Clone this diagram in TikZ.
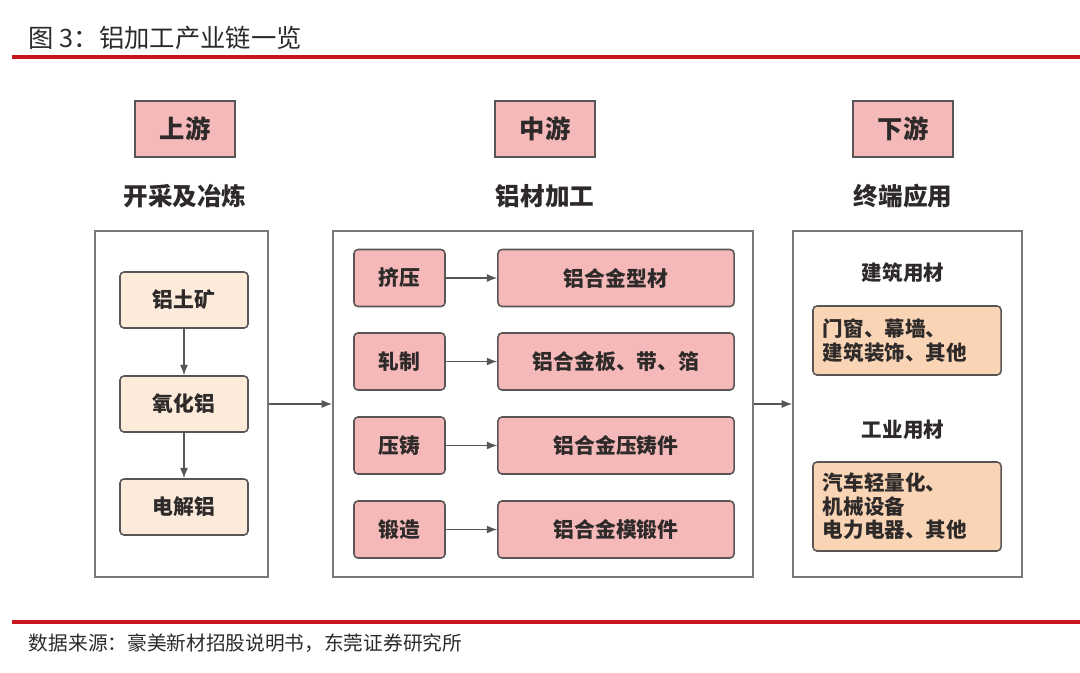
\documentclass[tikz,border=0pt]{standalone}
\usepackage{fontspec}
\setmainfont{Noto Sans CJK SC}
\usepackage{tikz}
\usetikzlibrary{arrows.meta}
\definecolor{zred}{HTML}{C8161D}
\definecolor{zpink}{HTML}{F4B9B8}
\definecolor{zcream}{HTML}{FCEADB}
\definecolor{zpeach}{HTML}{F9D5B5}
\definecolor{zedge}{HTML}{5A5555}
\definecolor{ztext}{HTML}{2E2A2A}

\tikzset{
  headbox/.style={draw=zedge,line width=1.2pt,fill=zpink,minimum width=2.5cm,minimum height=1.4cm,
    font=\fontsize{18}{20}\selectfont\bfseries,text=ztext},
  stagebox/.style={draw=zedge!80,line width=1.2pt,fill=white},
  orebox/.style={draw=zedge,line width=1.1pt,fill=zcream,rounded corners=1mm,minimum width=3.2cm,minimum height=1.4cm,
    font=\fontsize{14.8}{17}\selectfont\bfseries,text=ztext},
  procbox/.style={draw=zedge,line width=1.1pt,fill=zpink,rounded corners=1mm,minimum width=2.275cm,minimum height=1.425cm,
    font=\fontsize{14.8}{17}\selectfont\bfseries,text=ztext},
  prodbox/.style={procbox,minimum width=5.9cm},
  usebox/.style={draw=zedge,line width=1.1pt,fill=zpeach,rounded corners=1mm,text width=4.2cm,align=left,
    inner xsep=0.25cm,font=\fontsize{14.6}{16.8}\selectfont\bfseries,text=ztext},
  stagelabel/.style={font=\fontsize{17.5}{20}\selectfont\bfseries,text=ztext},
  grouplabel/.style={font=\fontsize{14.6}{17}\selectfont\bfseries,text=ztext},
  link/.style={->,line width=0.9pt,draw=zedge}
}

\begin{document}
\begin{tikzpicture}[>={Latex[length=2.6mm,width=2mm]},x=0.025cm,y=-0.025cm]
	\useasboundingbox[fill=white] (0,0) rectangle (1080,672);

	% title and rules
	\node[anchor=west,font=\fontsize{18}{20}\selectfont,text=ztext] (title) at (24,38) {图 3：铝加工产业链一览};
	\draw[zred,line width=2.2pt] (12,57) -- (1080,57);
	\draw[zred,line width=2.2pt] (12,622) -- (1080,622);
	\node[anchor=west,font=\fontsize{14}{17}\selectfont,text=ztext] (src) at (24,643) {数据来源：豪美新材招股说明书，东莞证券研究所};

	% stage headers
	\node[headbox] (up) at (185,129) {上游};
	\node[headbox] (mid) at (545,129) {中游};
	\node[headbox] (down) at (903,129) {下游};
	\node[stagelabel] (upl) at (185,196) {开采及冶炼};
	\node[stagelabel] (midl) at (545,196) {铝材加工};
	\node[stagelabel] (downl) at (903,196) {终端应用};

	% containers
	\node[stagebox,minimum width=4.325cm,minimum height=8.65cm] (upbox) at (181.5,404) {};
	\node[stagebox,minimum width=10.5cm,minimum height=8.65cm] (midbox) at (543,404) {};
	\node[stagebox,minimum width=5.725cm,minimum height=8.65cm] (downbox) at (907.5,404) {};

	% upstream
	\node[orebox] (bauxite) at (184,300) {铝土矿};
	\node[orebox] (alumina) at (184,404) {氧化铝};
	\node[orebox] (ingot) at (184,507) {电解铝};
	\draw[link] (bauxite) -- (alumina);
	\draw[link] (alumina) -- (ingot);

	% midstream
	\node[procbox] (extr) at (399.5,278) {挤压};
	\node[procbox] (roll) at (399.5,361.5) {轧制};
	\node[procbox] (cast) at (399.5,445.5) {压铸};
	\node[procbox] (forg) at (399.5,529.5) {锻造};
	\node[prodbox] (profile) at (616,278) {铝合金型材};
	\node[prodbox] (sheet) at (616,361.5) {铝合金板、带、箔};
	\node[prodbox] (diecast) at (616,445.5) {铝合金压铸件};
	\node[prodbox] (forging) at (616,529.5) {铝合金模锻件};
	\draw[link] (extr) -- (profile);
	\draw[link] (roll) -- (sheet);
	\draw[link] (cast) -- (diecast);
	\draw[link] (forg) -- (forging);

	% downstream
	\node[grouplabel] (build) at (903,273) {建筑用材};
	\node[usebox,minimum height=1.725cm] (buildapp) at (907,340.5) {门窗、幕墙、\\建筑装饰、其他};
	\node[grouplabel] (indus) at (903,430) {工业用材};
	\node[usebox,minimum height=2.225cm] (indusapp) at (907,506.5) {汽车轻量化、\\机械设备\\电力电器、其他};

	\draw[link] (upbox) -- (midbox);
	\draw[link] (midbox) -- (downbox);
\end{tikzpicture}
\end{document}
